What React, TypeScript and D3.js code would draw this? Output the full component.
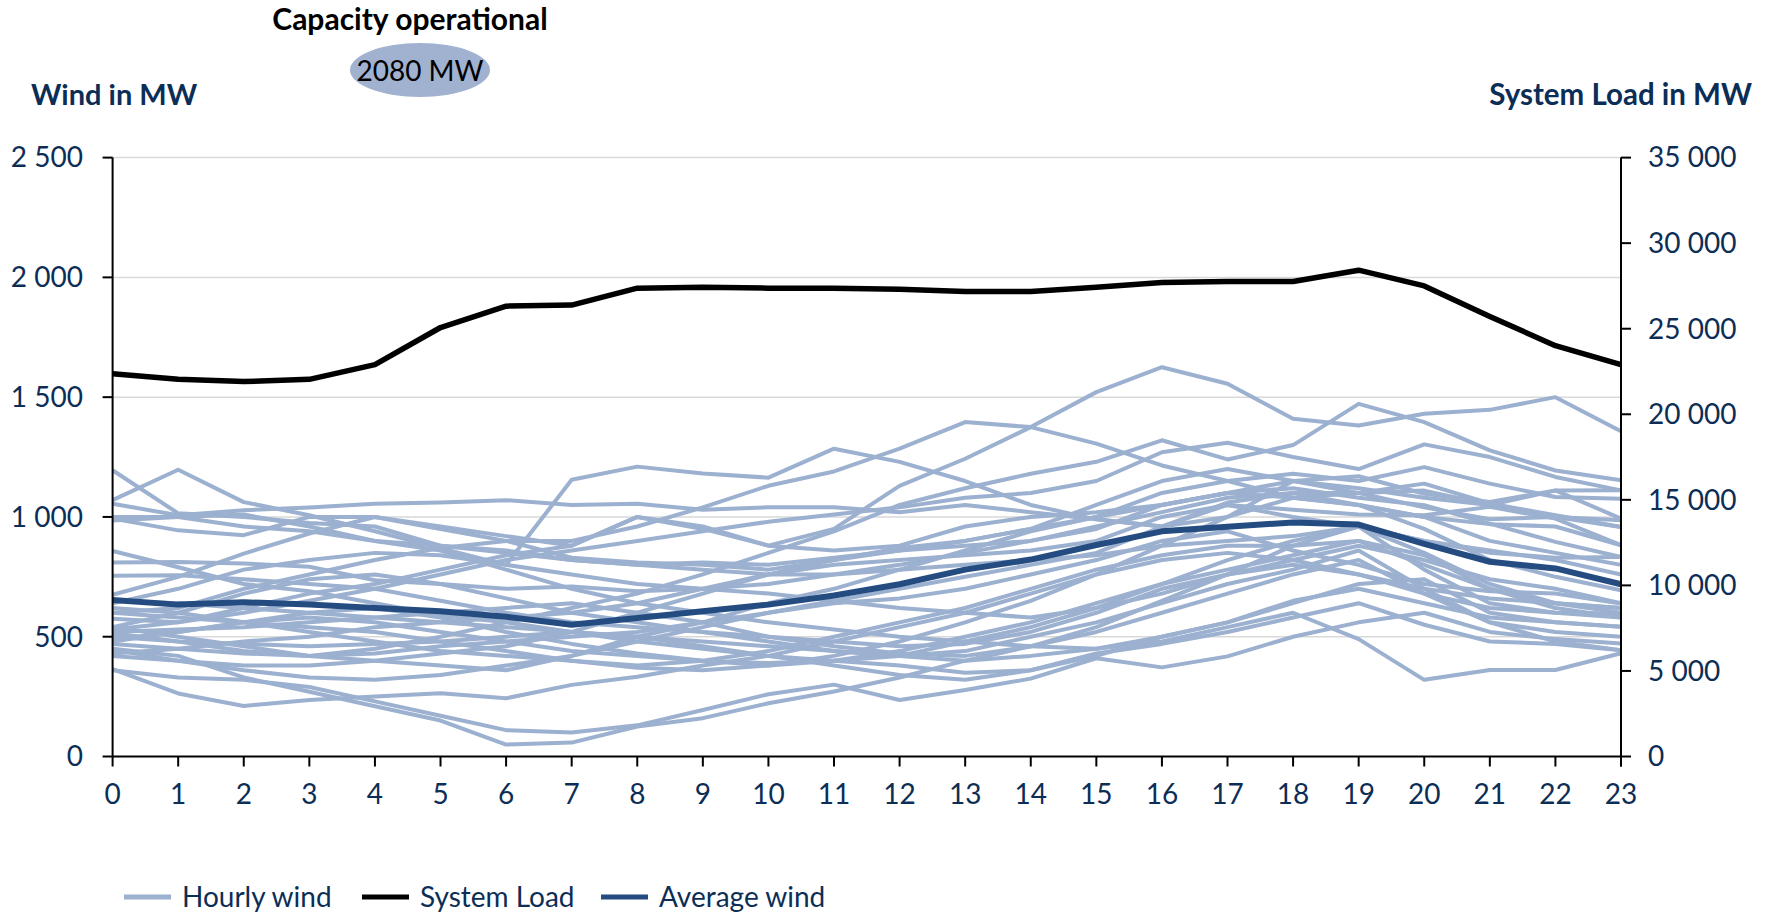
import React from "react";
import * as d3 from "d3";

const hours: number[] = d3.range(0, 24);
const windTicks: number[] = [0, 500, 1000, 1500, 2000, 2500];
const loadTicks: number[] = [0, 5000, 10000, 15000, 20000, 25000, 30000, 35000];

const systemLoad: number[] = [22370, 22040, 21910, 22040, 22900, 25070, 26320, 26380, 27370, 27430, 27370, 27370, 27300, 27170, 27170, 27430, 27700, 27760, 27760, 28420, 27500, 25720, 24010, 22900];

const averageWind: number[] = [653, 634, 644, 634, 620, 606, 583, 550, 578, 606, 634, 672, 719, 780, 822, 883, 940, 959, 977, 968, 888, 813, 785, 719];

const hourlyWind: number[][] = [
  [1195, 1015, 1000, 975, 960, 880, 850, 820, 800, 810, 800, 830, 860, 900, 950, 1000, 1050, 1100, 1080, 1050, 1000, 900, 850, 800],
  [1070, 1197, 1062, 1007, 940, 870, 800, 760, 720, 700, 680, 650, 620, 600, 580, 620, 680, 760, 820, 880, 820, 740, 700, 640],
  [1055, 1007, 1028, 1039, 1055, 1060, 1070, 1050, 1055, 1030, 1040, 1040, 1020, 1050, 1020, 990, 960, 1000, 1080, 1100, 1110, 1050, 1000, 986],
  [993, 944, 924, 1000, 1000, 950, 900, 830, 810, 800, 780, 820, 870, 900, 950, 1050, 1150, 1200, 1150, 1100, 1040, 990, 1000, 958],
  [985, 1000, 1010, 960, 900, 860, 780, 700, 640, 600, 560, 530, 500, 480, 460, 450, 500, 560, 650, 700, 640, 580, 560, 542],
  [858, 790, 720, 690, 640, 590, 560, 520, 480, 450, 420, 400, 380, 350, 360, 430, 470, 520, 580, 640, 550, 480, 470, 444],
  [810, 812, 806, 792, 736, 720, 700, 710, 690, 700, 720, 760, 800, 850, 900, 960, 1020, 1080, 1100, 1050, 950, 820, 750, 694],
  [755, 757, 740, 720, 700, 650, 600, 560, 540, 520, 500, 480, 460, 470, 520, 600, 700, 760, 800, 760, 700, 660, 640, 620],
  [675, 750, 847, 931, 1000, 960, 920, 880, 1000, 960, 880, 860, 880, 960, 1000, 1020, 1050, 1100, 1150, 1120, 1080, 1050, 1110, 1111],
  [640, 700, 780, 820, 850, 840, 800, 1155, 1210, 1181, 1164, 1285, 1230, 1150, 1050, 990, 960, 1050, 1000, 960, 900, 850, 830, 833],
  [600, 620, 700, 760, 820, 870, 900, 900, 960, 1040, 1130, 1190, 1285, 1396, 1375, 1306, 1215, 1150, 1080, 1050, 1000, 970, 960, 882],
  [575, 560, 620, 680, 720, 780, 840, 880, 1000, 950, 880, 950, 1130, 1243, 1375, 1521, 1625, 1556, 1410, 1382, 1431, 1447, 1500, 1358],
  [540, 500, 460, 420, 450, 500, 560, 620, 680, 760, 850, 940, 1050, 1120, 1180, 1230, 1320, 1240, 1300, 1472, 1396, 1278, 1194, 1153],
  [530, 560, 600, 650, 700, 760, 820, 860, 900, 940, 980, 1010, 1040, 1080, 1100, 1150, 1270, 1310, 1250, 1200, 1303, 1250, 1167, 1111],
  [515, 480, 440, 420, 400, 380, 360, 420, 500, 560, 640, 700, 780, 860, 940, 1000, 1100, 1150, 1180, 1150, 1208, 1139, 1083, 1076],
  [490, 520, 560, 600, 620, 580, 520, 470, 430, 400, 380, 420, 480, 560, 650, 760, 880, 1000, 1150, 1170, 1097, 1062, 1111, 993],
  [470, 450, 430, 420, 430, 460, 480, 500, 520, 560, 600, 650, 700, 750, 800, 850, 960, 1060, 1100, 1100, 1139, 1056, 1007, 958],
  [445, 400, 380, 380, 400, 430, 460, 520, 600, 680, 760, 820, 860, 880, 900, 950, 1050, 1100, 1120, 1080, 1049, 972, 896, 833],
  [430, 450, 480, 500, 540, 560, 580, 600, 640, 700, 760, 800, 820, 840, 860, 900, 1000, 1050, 1030, 1010, 1007, 1042, 993, 882],
  [420, 400, 360, 330, 320, 340, 380, 420, 480, 540, 600, 640, 660, 700, 760, 820, 900, 940, 860, 800, 720, 690, 680, 639],
  [365, 263, 211, 236, 250, 264, 243, 299, 333, 380, 420, 480, 540, 600, 680, 760, 820, 850, 820, 760, 680, 620, 600, 597],
  [450, 420, 330, 270, 210, 150, 50, 58, 125, 160, 222, 271, 330, 400, 460, 520, 600, 680, 760, 820, 680, 560, 520, 500],
  [360, 330, 320, 290, 230, 170, 110, 100, 130, 194, 260, 300, 236, 278, 325, 410, 372, 418, 500, 560, 600, 520, 490, 472],
  [520, 530, 540, 560, 580, 600, 620, 640, 600, 560, 500, 460, 430, 420, 460, 540, 650, 760, 880, 960, 850, 720, 640, 600],
  [600, 580, 560, 540, 520, 480, 440, 400, 370, 360, 380, 400, 440, 500, 560, 640, 720, 780, 840, 900, 800, 700, 620, 580],
  [650, 640, 620, 600, 580, 560, 540, 520, 500, 480, 460, 440, 420, 400, 420, 450, 480, 540, 600, 490, 320, 361, 361, 431],
  [500, 480, 470, 460, 470, 480, 500, 520, 500, 460, 420, 380, 340, 320, 360, 420, 500, 560, 640, 720, 740, 600, 560, 542],
  [480, 520, 560, 580, 560, 520, 480, 440, 420, 400, 390, 400, 420, 480, 540, 620, 720, 820, 900, 960, 780, 640, 600, 580],
  [1000, 1000, 960, 940, 900, 880, 860, 820, 800, 780, 760, 760, 780, 800, 820, 840, 880, 900, 920, 960, 900, 860, 820, 760],
  [540, 600, 680, 740, 760, 720, 660, 600, 560, 520, 480, 440, 420, 440, 500, 560, 640, 720, 780, 860, 700, 560, 480, 444],
  [620, 600, 560, 520, 480, 440, 420, 400, 380, 400, 440, 500, 560, 620, 700, 780, 840, 880, 880, 900, 840, 700, 640, 620],
];

const legendItems = [
  { label: "Hourly wind", color: "#9cb0d0" },
  { label: "System Load", color: "#000000" },
  { label: "Average wind", color: "#244c80" },
];

const W = 1765;
const H = 913;
const left = 112.6;
const right = 1621;
const top = 157.6;
const bottom = 756.5;
const navy = "#0c2e56";
const font = "Lato, 'Open Sans', sans-serif";
const fmt = (t: number) => d3.format(",")(t).replace(/,/g, " ");

export default function App() {
  const x = d3.scaleLinear().domain([0, 23]).range([left, right]);
  const yW = d3.scaleLinear().domain([0, 2500]).range([bottom, top]);
  const yL = d3.scaleLinear().domain([0, 35000]).range([bottom, top]);
  const lineW = d3.line<number>().x((_, i) => x(hours[i])).y((d) => yW(d));
  const lineL = d3.line<number>().x((_, i) => x(hours[i])).y((d) => yL(d));

  const legendX = [124, 362, 601];

  return (
    <svg
      width={W}
      height={H}
      style={{ position: "absolute", left: 0, top: 0, background: "#fff" }}
      fontFamily={font}
    >
      <rect x={0} y={0} width={W} height={H} fill="#fff" />
      {windTicks.filter((t) => t > 0).map((t) => (
        <line key={"g" + t} x1={left} x2={right} y1={yW(t)} y2={yW(t)} stroke="#d9d9d9" strokeWidth={1.5} />
      ))}
      {hourlyWind.map((s, i) => (
        <path key={"hw" + i} d={lineW(s) || ""} fill="none" stroke="#9cb0d0" strokeWidth={4} strokeLinejoin="round" />
      ))}
      <path d={lineL(systemLoad) || ""} fill="none" stroke="#000" strokeWidth={5.5} strokeLinejoin="round" />
      <path d={lineW(averageWind) || ""} fill="none" stroke="#244c80" strokeWidth={6} strokeLinejoin="round" />

      <line x1={left} x2={left} y1={top} y2={bottom} stroke="#000" strokeWidth={2} />
      <line x1={right} x2={right} y1={top} y2={bottom + 10} stroke="#000" strokeWidth={2} />
      <line x1={left} x2={right} y1={bottom} y2={bottom} stroke="#000" strokeWidth={2.2} />
      {windTicks.map((t) => (
        <g key={"wt" + t}>
          <line x1={left - 10} x2={left} y1={yW(t)} y2={yW(t)} stroke="#000" strokeWidth={2} />
          <text x={83} y={yW(t)} dy="0.35em" textAnchor="end" fontSize={28} fill={navy}>
            {fmt(t)}
          </text>
        </g>
      ))}
      {loadTicks.map((t) => (
        <g key={"lt" + t}>
          <line x1={right} x2={right + 10} y1={yL(t)} y2={yL(t)} stroke="#000" strokeWidth={2} />
          <text x={1648} y={yL(t)} dy="0.35em" textAnchor="start" fontSize={28} fill={navy}>
            {fmt(t)}
          </text>
        </g>
      ))}
      {hours.map((h) => (
        <g key={"ht" + h}>
          <line x1={x(h)} x2={x(h)} y1={bottom} y2={bottom + 10} stroke="#000" strokeWidth={2} />
          <text x={x(h)} y={794} dy="0.35em" textAnchor="middle" fontSize={28} fill={navy}>
            {h}
          </text>
        </g>
      ))}

      <text x={31} y={95} dy="0.35em" fontSize={29} fontWeight={700} fill={navy}>
        Wind in MW
      </text>
      <text x={1752} y={95} dy="0.35em" textAnchor="end" fontSize={29.5} fontWeight={700} fill={navy}>
        System Load in MW
      </text>
      <text x={410} y={19} dy="0.35em" textAnchor="middle" fontSize={30} fontWeight={700} fill="#000">
        Capacity operational
      </text>
      <ellipse cx={420} cy={70} rx={70} ry={27} fill="#a0b2d0" />
      <text x={420} y={71} dy="0.35em" textAnchor="middle" fontSize={28} fill="#000">
        2080 MW
      </text>

      {legendItems.map((it, i) => (
        <g key={"lg" + i}>
          <line x1={legendX[i]} x2={legendX[i] + 47} y1={897} y2={897} stroke={it.color} strokeWidth={5} />
          <text x={legendX[i] + 58} y={897} dy="0.35em" fontSize={28} fill={navy}>
            {it.label}
          </text>
        </g>
      ))}
    </svg>
  );
}
